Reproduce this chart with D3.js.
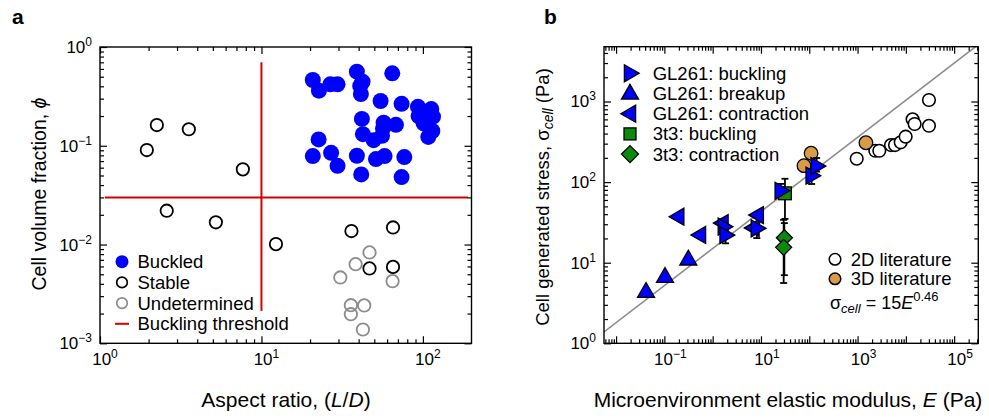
<!DOCTYPE html>
<html>
<head>
<meta charset="utf-8">
<script src="https://cdn.jsdelivr.net/npm/d3@7"></script>
<style>
  body { margin: 0; background: #fff; }
  svg { font-family: "Liberation Sans", Arial, sans-serif; }
</style>
</head>
<body>
<div id="chart"></div>
<script>
// ---- panel a data: aspect ratio (L/D) vs cell volume fraction ----
const buckledAR  = [20.8, 22.7, 26.7, 29.6, 39.0, 42.3, 40.9, 41.3, 64.6, 54.7, 73.8, 93.2, 112.7, 94.0, 106, 115.5, 101, 41.9, 57.1, 68.1, 114.4, 108, 42.5, 49.5, 55.8, 56.6, 22.6, 20.8, 27.0, 29.6, 39.0, 51.2, 57.9, 76.7, 41.5, 73.8];
const buckledPhi = [0.463, 0.361, 0.419, 0.419, 0.562, 0.445, 0.403, 0.334, 0.541, 0.284, 0.266, 0.248, 0.235, 0.200, 0.197, 0.197, 0.169, 0.187, 0.171, 0.163, 0.141, 0.123, 0.131, 0.114, 0.126, 0.150, 0.116, 0.0787, 0.0849, 0.0627, 0.0792, 0.0733, 0.0787, 0.0768, 0.0513, 0.0482];
const stableAR   = [2.25, 1.95, 3.55, 7.67, 2.59, 5.22, 12.3, 36.1, 65.3, 46.7, 65.3];
const stablePhi  = [0.162, 0.0905, 0.147, 0.0577, 0.022, 0.0168, 0.0101, 0.0137, 0.0149, 0.00573, 0.00594];
const undetAR    = [46.7, 38.3, 30.8, 64.9, 35.8, 43.3, 35.8, 42.5];
const undetPhi   = [0.00832, 0.00633, 0.00464, 0.00426, 0.00243, 0.00242, 0.00197, 0.00138];
const thresholdAR = 10;
const thresholdPhi = 0.03;
const legendA = ['Buckled', 'Stable', 'Undetermined', 'Buckling threshold'];

// ---- panel b data: elastic modulus E (Pa) vs generated stress (Pa) ----
const bucklingE  = [1.7, 1.85, 8.2, 25.6, 112, 142];
const bucklingS  = [28, 22, 26.7, 78, 120, 158];
const bucklingLo = [24, 17.4, 20.2, 66, 94.7, 135];
const bucklingHi = [34.5, 26, 31, 95, 134, 199];
const breakupE   = [0.0417, 0.103, 0.313];
const breakupS   = [4.37, 6.7, 11.0];
const contractE  = [0.194, 0.547, 1.6, 7.0, 8.6];
const contractS  = [37.2, 22.1, 31, 27, 39];
const t3BuckE    = [31.4];
const t3BuckS    = [72.6];
const t3BuckLo   = [35];
const t3BuckHi   = [110];
const t3ContE    = [30.5, 29.5];
const t3ContS    = [20.4, 15.5];
const t3ContLo   = [7.0, 5.6];
const t3ContHi   = [31, 34];
const lit2dE = [960, 2330, 2820, 4920, 5960, 7820, 9900, 13800, 15200, 30100, 30100];
const lit2dS = [195, 245, 245, 288, 288, 312, 366, 601, 526, 1044, 500];
const lit3dE = [1490, 109, 77.8];
const lit3dS = [308, 228, 160];
const fitA = 15, fitB = 0.46;
const legendB = ['GL261: buckling', 'GL261: breakup', 'GL261: contraction', '3t3: buckling', '3t3: contraction'];
const legendB2 = ['2D literature', '3D literature'];

const BLUE = '#0000ff', GREEN = '#0c8a0c', ORANGE = '#d99a4a', RED = '#d40000', GREY = '#8c8c8c';

const W = 989, H = 420;
const svg = d3.select('#chart').append('svg').attr('width', W).attr('height', H);

// log axis helper: inward ticks on all four sides
function logFrame(g, x, y, w, h, xMin, xMax, yMin, yMax) {
  const xMajor = d3.range(Math.ceil(Math.log10(xMin)), Math.floor(Math.log10(xMax)) + 1).map(e => Math.pow(10, e));
  const yMajor = d3.range(Math.ceil(Math.log10(yMin)), Math.floor(Math.log10(yMax)) + 1).map(e => Math.pow(10, e));
  const minors = (lo, hi) => {
    const out = [];
    for (let e = Math.floor(Math.log10(lo)); e <= Math.ceil(Math.log10(hi)); e++)
      for (let m = 2; m <= 9; m++) { const v = m * Math.pow(10, e); if (v > lo && v < hi) out.push(v); }
    return out;
  };
  const xMinor = minors(xMin, xMax), yMinor = minors(yMin, yMax);
  const sets = [
    [d3.axisBottom(x), 'translate(0,' + h + ')', xMajor, xMinor],
    [d3.axisTop(x), 'translate(0,0)', xMajor, xMinor],
    [d3.axisLeft(y), 'translate(0,0)', yMajor, yMinor],
    [d3.axisRight(y), 'translate(' + w + ',0)', yMajor, yMinor]
  ];
  sets.forEach(([ax, tr, maj, mnr]) => {
    g.append('g').attr('transform', tr)
      .call(ax.tickValues(maj).tickSize(-7).tickFormat(''))
      .call(s => s.select('.domain').remove());
    g.append('g').attr('transform', tr)
      .call(ax.tickValues(mnr).tickSize(-4).tickFormat(''))
      .call(s => s.select('.domain').remove());
  });
  g.selectAll('.tick line').attr('stroke', '#000').attr('stroke-width', 1.2);
  g.append('rect').attr('width', w).attr('height', h)
    .attr('fill', 'none').attr('stroke', '#000').attr('stroke-width', 1.4);
}

function powLabel(g, px, py, exp, anchor) {
  const t = g.append('text').attr('x', px).attr('y', py)
    .attr('font-size', 17).attr('text-anchor', anchor);
  t.append('tspan').text('10');
  t.append('tspan').attr('dy', -7).attr('font-size', 12).text(exp < 0 ? '\u2212' + (-exp) : exp);
  return t;
}

// ================= panel a =================
const aL = 100, aT = 47, aW = 371.5, aH = 296.3;
const xa = d3.scaleLog().domain([1, 200]).range([0, aW]);
const ya = d3.scaleLog().domain([0.001, 1]).range([aH, 0]);
const ga = svg.append('g').attr('transform', 'translate(' + aL + ',' + aT + ')');

// threshold lines
ga.append('line').attr('x1', xa(1.07)).attr('x2', xa(190))
  .attr('y1', ya(thresholdPhi)).attr('y2', ya(thresholdPhi))
  .attr('stroke', RED).attr('stroke-width', 2);
ga.append('line').attr('x1', xa(thresholdAR)).attr('x2', xa(thresholdAR))
  .attr('y1', ya(0.7)).attr('y2', ya(0.00213))
  .attr('stroke', RED).attr('stroke-width', 2);

ga.selectAll('.undet').data(undetAR).enter().append('circle')
  .attr('cx', d => xa(d)).attr('cy', (d, i) => ya(undetPhi[i])).attr('r', 6.2)
  .attr('fill', 'none').attr('stroke', GREY).attr('stroke-width', 1.8);
ga.selectAll('.stable').data(stableAR).enter().append('circle')
  .attr('cx', d => xa(d)).attr('cy', (d, i) => ya(stablePhi[i])).attr('r', 6.2)
  .attr('fill', 'none').attr('stroke', '#000').attr('stroke-width', 1.8);
ga.selectAll('.buck').data(buckledAR).enter().append('circle')
  .attr('cx', d => xa(d)).attr('cy', (d, i) => ya(buckledPhi[i])).attr('r', 8)
  .attr('fill', BLUE);

logFrame(ga, xa, ya, aW, aH, 1, 200, 0.001, 1);

[0, 1, 2].forEach(e => powLabel(ga, xa(Math.pow(10, e)) + 5, aH + 22, e, 'middle'));
[0, -1, -2, -3].forEach(e => powLabel(ga, -8, ya(Math.pow(10, e)) + 6, e, 'end'));

// legend a
const lgA = ga.append('g').attr('transform', 'translate(22,' + (261.7 - aT) + ')');
legendA.forEach((name, i) => {
  const row = lgA.append('g').attr('transform', 'translate(0,' + i * 20.7 + ')');
  if (i === 0) row.append('circle').attr('r', 6.5).attr('fill', BLUE);
  if (i === 1) row.append('circle').attr('r', 5.3).attr('fill', 'none').attr('stroke', '#000').attr('stroke-width', 1.7);
  if (i === 2) row.append('circle').attr('r', 5.3).attr('fill', 'none').attr('stroke', GREY).attr('stroke-width', 1.7);
  if (i === 3) row.append('line').attr('x1', -7).attr('x2', 7).attr('stroke', RED).attr('stroke-width', 2);
  row.append('text').attr('x', 15.5).attr('y', 6.5).attr('font-size', 18.5).text(name);
});

svg.append('text').attr('x', 286).attr('y', 407).attr('text-anchor', 'middle').attr('font-size', 21)
  .call(t => {
    t.append('tspan').text('Aspect ratio, (');
    t.append('tspan').attr('font-style', 'italic').text('L');
    t.append('tspan').text('/');
    t.append('tspan').attr('font-style', 'italic').text('D');
    t.append('tspan').text(')');
  });
svg.append('text').attr('transform', 'translate(46,194) rotate(-90)').attr('text-anchor', 'middle').attr('font-size', 19.5)
  .call(t => {
    t.append('tspan').text('Cell volume fraction, ');
    t.append('tspan').attr('font-style', 'italic').text('\u03d5');
  });
svg.append('text').attr('x', 12).attr('y', 24).attr('font-size', 21).attr('font-weight', 'bold').text('a');

// ================= panel b =================
const bL = 604, bT = 46.7, bW = 374.3, bH = 296.6;
const eMin = Math.pow(10, -2.25), eMax = Math.pow(10, 5.5);
const sMax = Math.pow(10, 3.68);
const xb = d3.scaleLog().domain([eMin, eMax]).range([0, bW]);
const yb = d3.scaleLog().domain([1, sMax]).range([bH, 0]);
const gb = svg.append('g').attr('transform', 'translate(' + bL + ',' + bT + ')');

gb.append('clipPath').attr('id', 'clipb').append('rect').attr('width', bW).attr('height', bH);

// fit line
const fitE = [eMin, eMax];
gb.append('path').attr('clip-path', 'url(#clipb)')
  .attr('d', d3.line().x(d => xb(d)).y(d => yb(fitA * Math.pow(d, fitB)))(fitE))
  .attr('stroke', GREY).attr('stroke-width', 1.6).attr('fill', 'none');

// marker shapes
const tri = s => {  // up triangle, side ~ s
  const h = s * 0.87;
  return 'M0,' + (-h * 0.62) + 'L' + (s / 2) + ',' + (h * 0.38) + 'L' + (-s / 2) + ',' + (h * 0.38) + 'Z';
};
function marker(g, kind, px, py, s) {
  let el;
  if (kind === 'right') el = g.append('path').attr('d', tri(s)).attr('transform', 'translate(' + px + ',' + py + ') rotate(90)').attr('fill', BLUE);
  if (kind === 'up') el = g.append('path').attr('d', tri(s)).attr('transform', 'translate(' + px + ',' + py + ')').attr('fill', BLUE);
  if (kind === 'left') el = g.append('path').attr('d', tri(s)).attr('transform', 'translate(' + px + ',' + py + ') rotate(-90)').attr('fill', BLUE);
  if (kind === 'square') el = g.append('rect').attr('x', px - s * 0.4).attr('y', py - s * 0.4).attr('width', s * 0.8).attr('height', s * 0.8).attr('fill', GREEN);
  if (kind === 'diamond') el = g.append('path').attr('d', 'M0,' + (-s / 2) + 'L' + (s / 2) + ',0L0,' + (s / 2) + 'L' + (-s / 2) + ',0Z').attr('transform', 'translate(' + px + ',' + py + ')').attr('fill', GREEN);
  el.attr('stroke', '#000').attr('stroke-width', 1.3);
}
function errBar(g, E, lo, hi) {
  const px = xb(E);
  g.append('line').attr('x1', px).attr('x2', px).attr('y1', yb(lo)).attr('y2', yb(hi)).attr('stroke', '#000').attr('stroke-width', 1.8);
  [lo, hi].forEach(v => g.append('line').attr('x1', px - 3.5).attr('x2', px + 3.5).attr('y1', yb(v)).attr('y2', yb(v)).attr('stroke', '#000').attr('stroke-width', 1.8));
}

const pts = gb.append('g');
lit2dE.forEach((E, i) => pts.append('circle').attr('cx', xb(E)).attr('cy', yb(lit2dS[i])).attr('r', 6.3)
  .attr('fill', '#fff').attr('stroke', '#000').attr('stroke-width', 1.6));
lit3dE.forEach((E, i) => pts.append('circle').attr('cx', xb(E)).attr('cy', yb(lit3dS[i])).attr('r', 6.8)
  .attr('fill', ORANGE).attr('stroke', '#000').attr('stroke-width', 1.3));

t3ContE.forEach((E, i) => errBar(pts, E, t3ContLo[i], t3ContHi[i]));
t3BuckE.forEach((E, i) => errBar(pts, E, t3BuckLo[i], t3BuckHi[i]));
bucklingE.forEach((E, i) => errBar(pts, E, bucklingLo[i], bucklingHi[i]));

breakupE.forEach((E, i) => marker(pts, 'up', xb(E), yb(breakupS[i]), 17));
contractE.forEach((E, i) => marker(pts, 'left', xb(E), yb(contractS[i]), 17));
t3ContE.forEach((E, i) => marker(pts, 'diamond', xb(E), yb(t3ContS[i]), 16));
t3BuckE.forEach((E, i) => marker(pts, 'square', xb(E), yb(t3BuckS[i]), 16));
bucklingE.forEach((E, i) => marker(pts, 'right', xb(E), yb(bucklingS[i]), 17));

logFrame(gb, xb, yb, bW, bH, eMin, eMax, 1, sMax);

[-1, 1, 3, 5].forEach(e => powLabel(gb, xb(Math.pow(10, e)) + 6, bH + 22, e, 'middle'));
[0, 1, 2, 3].forEach(e => powLabel(gb, -8, yb(Math.pow(10, e)) + 6, e, 'end'));

// legend b (upper left)
const lgB = gb.append('g').attr('transform', 'translate(' + (630 - bL) + ',' + (73.3 - bT) + ')');
const kinds = ['right', 'up', 'left', 'square', 'diamond'];
legendB.forEach((name, i) => {
  const yy = i * 20.2;
  marker(lgB, kinds[i], 0, yy, kinds[i] === 'square' ? 15 : 17);
  lgB.append('text').attr('x', 22.7).attr('y', yy + 6.5).attr('font-size', 18.5).text(name);
});
// legend b (lower right)
const lgB2 = gb.append('g').attr('transform', 'translate(' + (835 - bL) + ',' + (259.3 - bT) + ')');
legendB2.forEach((name, i) => {
  lgB2.append('circle').attr('cy', i * 19.5).attr('r', 5.8)
    .attr('fill', i === 0 ? '#fff' : ORANGE).attr('stroke', '#000').attr('stroke-width', 1.5);
  lgB2.append('text').attr('x', 15.7).attr('y', i * 19.5 + 6.5).attr('font-size', 18.5).text(name);
});
gb.append('text').attr('x', 830 - bL).attr('y', 309 - bT).attr('font-size', 18)
  .call(t => {
    t.append('tspan').text('\u03c3');
    t.append('tspan').attr('dy', 4).attr('font-size', 13).attr('font-style', 'italic').text('cell');
    t.append('tspan').attr('dy', -4).text(' = 15');
    t.append('tspan').attr('font-style', 'italic').text('E');
    t.append('tspan').attr('dy', -8).attr('font-size', 13).text('0.46');
  });

svg.append('text').attr('x', 788).attr('y', 407).attr('text-anchor', 'middle').attr('font-size', 21)
  .call(t => {
    t.append('tspan').text('Microenvironment elastic modulus, ');
    t.append('tspan').attr('font-style', 'italic').text('E');
    t.append('tspan').text(' (Pa)');
  });
svg.append('text').attr('transform', 'translate(549,197) rotate(-90)').attr('text-anchor', 'middle').attr('font-size', 18.5)
  .call(t => {
    t.append('tspan').text('Cell generated stress, \u03c3');
    t.append('tspan').attr('dy', 4).attr('font-size', 14).attr('font-style', 'italic').text('cell');
    t.append('tspan').attr('dy', -4).text(' (Pa)');
  });
svg.append('text').attr('x', 544).attr('y', 24).attr('font-size', 21).attr('font-weight', 'bold').text('b');
</script>
</body>
</html>
